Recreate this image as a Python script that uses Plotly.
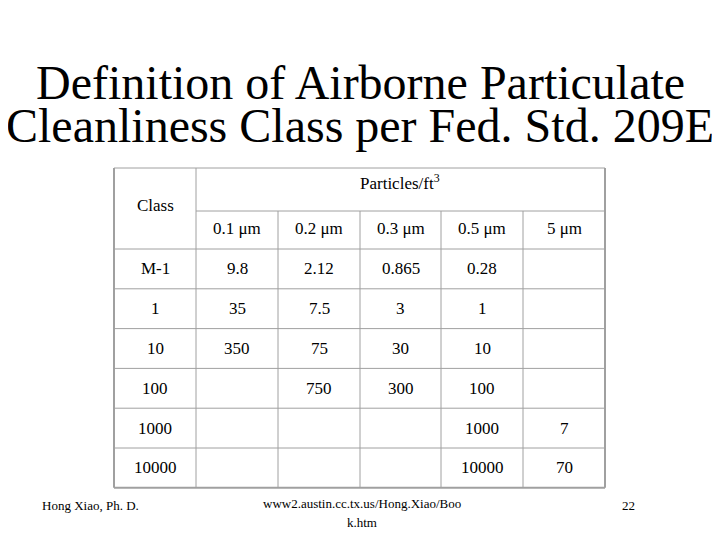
import plotly.graph_objects as go

title_lines = ["Definition of Airborne Particulate", "Cleanliness Class per Fed. Std. 209E"]
sizes = ["0.1 &#956;m", "0.2 &#956;m", "0.3 &#956;m", "0.5 &#956;m", "5 &#956;m"]
classes = ["M-1", "1", "10", "100", "1000", "10000"]
counts = [
    ["9.8", "2.12", "0.865", "0.28", ""],
    ["35", "7.5", "3", "1", ""],
    ["350", "75", "30", "10", ""],
    ["", "750", "300", "100", ""],
    ["", "", "", "1000", "7"],
    ["", "", "", "10000", "70"],
]

# table geometry (px)
col_x = [114, 196, 278, 360, 441, 523, 605]
top, mid, body_top, row_h = 168, 211, 249, 39.8
row_y = [body_top + i * row_h for i in range(len(classes) + 1)]
grid = "rgb(160,160,160)"
serif = "Liberation Serif, Times New Roman, serif"

shapes = []
def line(x0, y0, x1, y1, w=1):
    shapes.append(dict(type="line", x0=x0, y0=y0, x1=x1, y1=y1, xref="x", yref="y",
                       line=dict(color=grid, width=w)))

line(col_x[0], top, col_x[-1], top)
line(col_x[1], mid, col_x[-1], mid)
for y in row_y[:-1]:
    line(col_x[0], y, col_x[-1], y)
line(col_x[0], row_y[-1], col_x[-1], row_y[-1], 2)
line(col_x[0], top, col_x[0], row_y[-1], 2)
line(col_x[-1], top, col_x[-1], row_y[-1], 2)
line(col_x[1], top, col_x[1], row_y[-1])
for x in col_x[2:-1]:
    line(x, mid, x, row_y[-1])

ann = []
def txt(x, y, s, size=17, **kw):
    ann.append(dict(x=x, y=y, text=s, xref="x", yref="y", showarrow=False,
                    font=dict(family=serif, size=size, color="black"), **kw))

txt(360, 82, title_lines[0], 48)
txt(360, 125, title_lines[1], 48)
txt(155, 205, "Class")
txt(400, 182, "Particles/ft<sup>3</sup>")
for j, s in enumerate(sizes):
    txt((col_x[j + 1] + col_x[j + 2]) / 2, 228, s)
for i, c in enumerate(classes):
    yc = (row_y[i] + row_y[i + 1]) / 2
    txt((col_x[0] + col_x[1]) / 2, yc, c)
    for j, v in enumerate(counts[i]):
        if v:
            txt((col_x[j + 1] + col_x[j + 2]) / 2, yc, v)

txt(90, 505, "Hong Xiao, Ph. D.", 13)
txt(362, 503, "www2.austin.cc.tx.us/Hong.Xiao/Boo", 13)
txt(362, 522, "k.htm", 13)
txt(628, 505, "22", 13)

fig = go.Figure()
fig.update_layout(
    width=720, height=540, margin=dict(l=0, r=0, t=0, b=0),
    paper_bgcolor="white", plot_bgcolor="white",
    # page body has an 8px margin, so shift the frame to keep pixel positions
    xaxis=dict(range=[8, 728], visible=False, fixedrange=True),
    yaxis=dict(range=[548, 8], visible=False, fixedrange=True),
    shapes=shapes, annotations=ann, showlegend=False,
)
fig.write_html("out.html")
